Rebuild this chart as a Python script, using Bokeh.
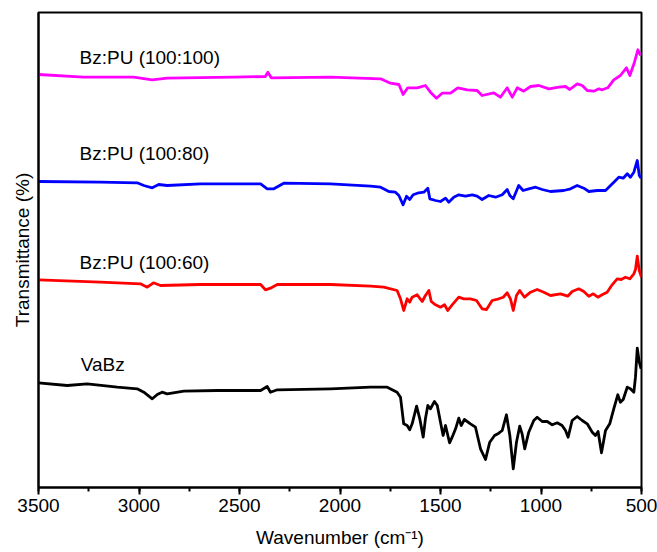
from bokeh.plotting import figure
from bokeh.models import Range1d, SingleIntervalTicker, FixedTicker
from bokeh.core.properties import value
from bokeh.embed import file_html
from bokeh.resources import INLINE

# ---- data (wavenumber in cm^-1, offset transmittance in arbitrary units) ----
wn_vabz = [3500, 3357, 3258, 3108, 3009, 2976, 2934, 2909, 2885, 2860, 2777, 2611, 2395, 2362, 2346, 2312,
           2047, 1848, 1765, 1716, 1699, 1683, 1666, 1653, 1641, 1619, 1603, 1586, 1575, 1563, 1550, 1530,
           1516, 1500, 1487, 1475, 1455, 1442, 1425, 1409, 1397, 1381, 1351, 1326, 1301, 1276, 1255, 1231,
           1210, 1193, 1172, 1155, 1138, 1122, 1106, 1094, 1081, 1061, 1036, 1019, 994, 969, 944, 919, 895,
           878, 865, 845, 820, 795, 770, 745, 729, 716, 699, 679, 658, 638, 618, 605, 591, 571, 555, 538,
           530, 521, 511, 502]
t_vabz = [104.7, 102, 103.7, 100.3, 98.7, 95.3, 88.7, 93, 95.3, 93.7, 96.3, 97, 97, 101, 95.3, 97.7,
          98.7, 100.3, 100.3, 95.3, 90.3, 63.7, 62, 57.7, 63.7, 81.3, 68.7, 50.3, 68.7, 82, 78.7, 86,
          82, 65.3, 52, 62, 44.7, 50.3, 58.7, 69.3, 62, 68, 63.7, 60.3, 38.7, 28, 45.3, 52,
          54.3, 57, 72.7, 52, 18.7, 45.3, 61.3, 53.7, 38.7, 55.3, 67, 70.3, 66, 66, 62.7, 64.7, 62,
          57, 50.3, 67, 71, 67, 63.7, 55.3, 52, 56, 34.7, 57, 63.7, 78.7, 92.7, 85.3, 88, 100.3, 98.7, 95.3,
          110.3, 139.3, 125.3, 118.7]

wn_60 = [3500, 3192, 2993, 2959, 2928, 2893, 2694, 2395, 2371, 2346, 2312, 2047, 1848, 1782, 1716, 1699,
         1683, 1666, 1653, 1641, 1616, 1591, 1575, 1558, 1546, 1525, 1500, 1480, 1464, 1442, 1409, 1384,
         1351, 1321, 1293, 1271, 1243, 1210, 1188, 1168, 1152, 1138, 1122, 1106, 1082, 1052, 1019, 986,
         953, 903, 867, 845, 812, 787, 762, 740, 717, 696, 671, 646, 621, 601, 580, 558, 538, 530, 521,
         511, 500]
t_60 = [207.7, 205.3, 203.7, 200.3, 204.7, 202, 203, 203, 197.7, 199.3, 203, 203, 201.3, 200.3, 197, 188.7,
        177, 188.7, 185.3, 190.3, 192.7, 186, 192, 197, 186, 182.7, 180.3, 182.7, 177, 182.7, 190.3, 188.7,
        188.7, 187, 178.7, 178, 187, 188.7, 190.3, 194.7, 188.7, 177, 192, 197, 190.3, 195.3, 198, 195.3,
        192, 193.7, 191.3, 196, 198.7, 196, 191.3, 193.7, 190.3, 192.7, 195.3, 202.7, 208.7, 208, 210.3,
        208.7, 213.7, 218, 231.3, 217, 210.3]

wn_80 = [3500, 3192, 3009, 2976, 2934, 2902, 2860, 2694, 2395, 2362, 2329, 2280, 2047, 1848, 1798, 1757,
         1724, 1707, 1686, 1669, 1653, 1636, 1608, 1583, 1563, 1553, 1525, 1500, 1475, 1459, 1434, 1409,
         1376, 1342, 1318, 1293, 1260, 1226, 1193, 1168, 1155, 1138, 1111, 1089, 1061, 1027, 994, 953,
         887, 853, 820, 787, 762, 720, 679, 654, 629, 613, 591, 571, 555, 538, 521, 511, 502]
t_80 = [306, 305.3, 304.7, 302, 299.7, 303, 302, 303.7, 303.7, 298.7, 298.7, 304.3, 303.7, 301.3, 300.3, 296,
        295.3, 292, 282.7, 291.3, 288, 292.7, 294.7, 295.3, 299.3, 288.7, 287, 286, 289.3, 285.3, 290.3, 292.7,
        291.3, 292.7, 291.3, 288, 292, 290.3, 292.7, 298, 292, 288.7, 302, 297, 298.7, 300.3, 298, 296,
        297, 298.7, 302, 299.3, 296, 297, 297, 302, 307, 310.3, 309.3, 313.7, 310.3, 315.3, 327, 312, 309.3]

wn_100 = [3500, 3275, 3026, 2934, 2860, 2528, 2371, 2359, 2342, 2047, 1798, 1749, 1707, 1686, 1663, 1616,
          1575, 1550, 1520, 1492, 1450, 1414, 1367, 1318, 1293, 1235, 1202, 1168, 1143, 1118, 1086, 1052,
          1011, 961, 911, 878, 857, 820, 795, 770, 737, 712, 696, 668, 638, 605, 575, 558, 535, 518, 505]
t_100 = [413, 410.3, 410.3, 407.7, 409.3, 410.3, 411, 415.3, 409.7, 410.3, 408.7, 404.3, 403, 393, 399.7, 399.7,
         402, 395.3, 389.3, 394.3, 394.3, 399.7, 397.7, 397, 392, 394.7, 390.3, 399.7, 390.3, 399.7, 396.3, 401,
         402, 398.7, 400.3, 401, 398, 403.7, 402, 397, 396.3, 398.7, 397.7, 399.7, 407.7, 412, 419.7, 412,
         425.3, 437.7, 432]

series_names = ["VaBz", "Bz:PU (100:60)", "Bz:PU (100:80)", "Bz:PU (100:100)"]
series_colors = ["#000000", "#FF0000", "#0000FF", "#FF00FF"]
label_x = [3290, 3296, 3296, 3296]
label_y = [122.7, 225.3, 333.7, 430.3]

FONT = "Liberation Sans"

p = figure(width=657, height=552,
           x_range=Range1d(3500, 500), y_range=Range1d(0, 475),
           output_backend="svg", toolbar_location=None,
           min_border_left=38, min_border_right=16, min_border_top=12, min_border_bottom=65)

p.background_fill_color = "white"
p.border_fill_color = "white"
p.xgrid.visible = False
p.ygrid.visible = False
p.outline_line_color = "black"
p.outline_line_width = 2
p.outline_line_alpha = 1

for xs, ys, c in zip([wn_vabz, wn_60, wn_80, wn_100], [t_vabz, t_60, t_80, t_100], series_colors):
    p.line(xs, ys, line_color=c, line_width=2.8, line_join="round")

p.text(x=label_x, y=label_y, text=series_names, text_font=value(FONT), text_font_size="19px",
       text_baseline="middle", text_align="left", text_color="black")

# x axis
p.xaxis.ticker = SingleIntervalTicker(interval=500, num_minor_ticks=2)
p.xaxis.axis_label = "Wavenumber (cm\u207b\u00b9)"
p.xaxis.axis_label_text_font = FONT
p.xaxis.axis_label_text_font_size = "19px"
p.xaxis.axis_label_text_font_style = "normal"
p.xaxis.axis_label_text_color = "black"
p.xaxis.axis_label_standoff = 12
p.xaxis.major_label_text_font = FONT
p.xaxis.major_label_text_font_size = "19px"
p.xaxis.major_label_text_color = "black"
p.xaxis.major_label_standoff = 4
p.xaxis.axis_line_width = 2
p.xaxis.axis_line_color = "black"
p.xaxis.major_tick_line_width = 2
p.xaxis.minor_tick_line_width = 2
p.xaxis.major_tick_line_color = "black"
p.xaxis.minor_tick_line_color = "black"
p.xaxis.major_tick_in = 0
p.xaxis.major_tick_out = 7
p.xaxis.minor_tick_in = 0
p.xaxis.minor_tick_out = 4

# y axis (no ticks / labels)
p.yaxis.ticker = FixedTicker(ticks=[])
p.yaxis.axis_label = "Transmittance (%)"
p.yaxis.axis_label_text_font = FONT
p.yaxis.axis_label_text_font_size = "19px"
p.yaxis.axis_label_text_font_style = "normal"
p.yaxis.axis_label_text_color = "black"
p.yaxis.axis_label_standoff = 6
p.yaxis.major_label_standoff = 0
p.yaxis.major_tick_in = 0
p.yaxis.major_tick_out = 0
p.yaxis.minor_tick_in = 0
p.yaxis.minor_tick_out = 0
p.yaxis.axis_line_width = 2
p.yaxis.axis_line_color = "black"

open("out.html", "w").write(file_html(p, INLINE))
